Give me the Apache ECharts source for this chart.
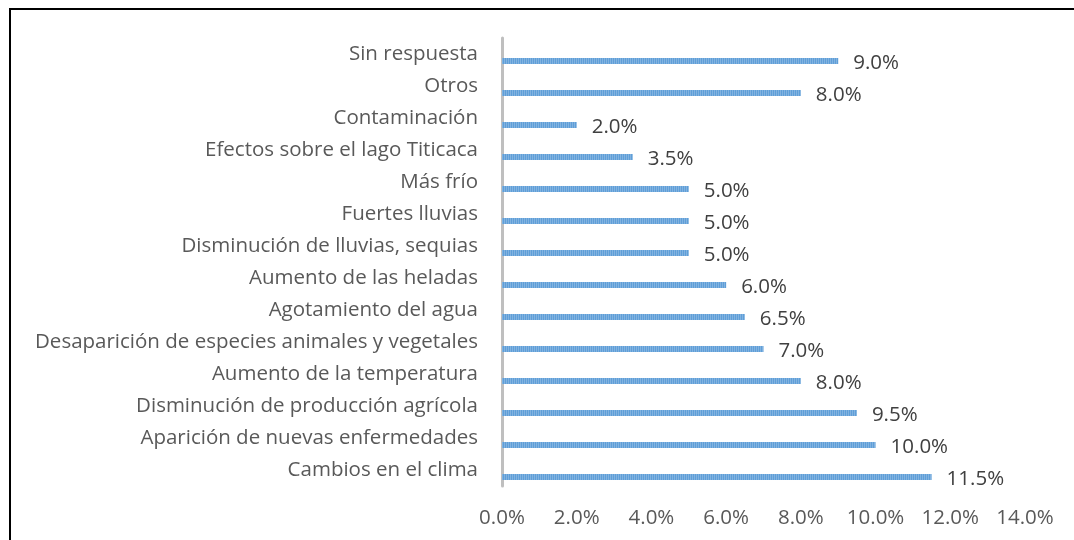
<!DOCTYPE html>
<html>
<head>
<meta charset="utf-8">
<script src="https://cdn.jsdelivr.net/npm/echarts@6/dist/echarts.min.js"></script>
<style>
html,body{margin:0;padding:0;background:#fff;}
#chart{width:1074px;height:540px;}
</style>
</head>
<body>
<div id="chart"></div>
<script>
// categories listed bottom to top
const categories = [
  "Cambios en el clima",
  "Aparición de nuevas enfermedades",
  "Disminución de producción agrícola",
  "Aumento de la temperatura",
  "Desaparición de especies animales y vegetales",
  "Agotamiento del agua",
  "Aumento de las heladas",
  "Disminución de lluvias, sequias",
  "Fuertes lluvias",
  "Más frío",
  "Efectos sobre el lago Titicaca",
  "Contaminación",
  "Otros",
  "Sin respuesta"
];
const values = [11.5, 10.0, 9.5, 8.0, 7.0, 6.5, 6.0, 5.0, 5.0, 5.0, 3.5, 2.0, 8.0, 9.0];
const xTicks = [0, 2, 4, 6, 8, 10, 12, 14];

const chart = echarts.init(document.getElementById('chart'));
const font = 'Open Sans';
chart.setOption({
  animation: false,
  backgroundColor: '#fff',
  graphic: [{
    type: 'rect',
    shape: { x: 10, y: 9, width: 1200, height: 700 },
    style: { fill: 'none', stroke: '#000', lineWidth: 2 },
    silent: true
  }],
  grid: { left: 502, right: 49, top: 38, bottom: 54, containLabel: false },
  xAxis: {
    type: 'value', min: xTicks[0], max: xTicks[xTicks.length - 1], interval: 2,
    axisLine: { show: false }, axisTick: { show: false }, splitLine: { show: false },
    axisLabel: {
      margin: 22, color: '#595959', fontFamily: font, fontSize: 20.5,
      formatter: v => v.toFixed(1) + '%'
    }
  },
  yAxis: {
    type: 'category', data: categories,
    axisLine: { show: true, lineStyle: { color: '#bfbfbf', width: 3 } },
    axisTick: { show: false },
    axisLabel: { margin: 24, color: '#595959', fontFamily: font, fontSize: 20.5 }
  },
  series: [
    {
      type: 'bar', name: 'spacer', data: categories.map(() => '-'),
      barWidth: 6, barGap: '133%', silent: true
    },
    {
      type: 'bar', name: 'Porcentaje', data: values,
      barWidth: 6, barGap: '133%',
      itemStyle: {
        color: '#5f9ed8',
        decal: {
          symbol: 'rect', symbolSize: 1,
          dashArrayX: [1, 1], dashArrayY: [6, 0],
          color: 'rgba(255,255,255,0.22)'
        }
      },
      label: {
        show: true, position: 'right', distance: 15, offset: [0, 2],
        color: '#404040', fontFamily: font, fontSize: 20.5,
        formatter: p => p.value.toFixed(1) + '%'
      }
    }
  ]
});
</script>
</body>
</html>
